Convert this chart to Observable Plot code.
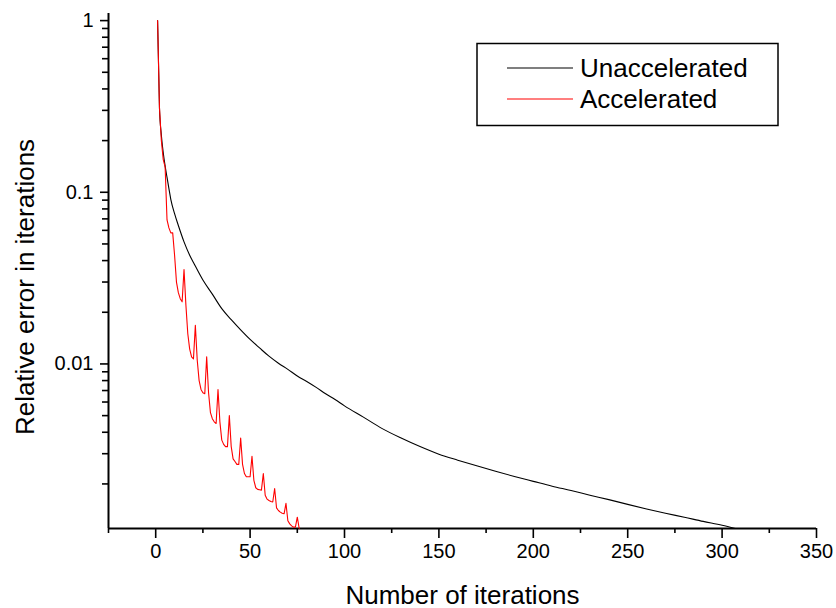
<!DOCTYPE html>
<html><head><meta charset="utf-8">
<script src="https://cdn.jsdelivr.net/npm/d3@7"></script>
<script src="https://cdn.jsdelivr.net/npm/@observablehq/plot@0.6"></script>
<style>
body{margin:0;background:#fff}
svg{font-family:"Liberation Sans",Arial,sans-serif}
</style>
</head><body><div id="chart"></div>
<script>
// Unaccelerated series (iteration, relative error)
const unaccIter = [1,2,3,4,5,6,7,8,10,12,15,18,20,25,30,35,40,45,50,55,60,65,70,75,80,85,90,95,100,110,120,130,140,150,160,170,180,190,200,210,220,230,240,250,260,270,280,290,300,307];
const unaccErr  = [1.0,0.31,0.215,0.17,0.142,0.122,0.105,0.091,0.075,0.064,0.0514,0.043,0.039,0.0308,0.0255,0.021,0.0181,0.0158,0.0139,0.0124,0.0111,0.0101,0.0093,0.0085,0.0079,0.0073,0.0067,0.0062,0.0057,0.0049,0.0042,0.0037,0.0033,0.00298,0.00275,0.00255,0.00237,0.00221,0.00207,0.00194,0.00183,0.00172,0.00162,0.00152,0.00143,0.00135,0.00128,0.00121,0.00115,0.0011];
// Accelerated series
const accIter = [1,2,3,4,5,6,7,8,9,10,11,12,13,14,15,16,17,18,19,20,21,22,23,24,25,26,27,28,29,30,31,32,33,34,35,36,37,38,39,40,41,42,43,44,45,46,47,48,49,50,51,52,53,54,55,56,57,58,59,60,61,62,63,64,65,66,67,68,69,70,71,72,73,74,75,76];
const accErr  = [1.0,0.31,0.2,0.155,0.14,0.069,0.062,0.058,0.058,0.043,0.03,0.026,0.024,0.023,0.0355,0.022,0.015,0.0122,0.011,0.0107,0.0168,0.0105,0.008,0.0071,0.0068,0.0067,0.011,0.0068,0.0052,0.0048,0.0046,0.0045,0.0071,0.0046,0.0036,0.0034,0.0033,0.0033,0.005,0.0033,0.0028,0.0027,0.0026,0.0026,0.0037,0.0026,0.0023,0.0022,0.0022,0.0022,0.0029,0.0021,0.0019,0.00186,0.00185,0.00184,0.0023,0.00172,0.00163,0.0016,0.00158,0.00157,0.00188,0.00145,0.0014,0.00137,0.00135,0.00134,0.00154,0.00122,0.00117,0.00114,0.00112,0.00112,0.00128,0.0011];

const seriesNames = ["Unaccelerated","Accelerated"];
const seriesColors = ["#000000","#ff0000"];
const xMajorTicks = [0,50,100,150,200,250,300,350];
const xMinorTicks = [-25,25,75,125,175,225,275,325];
const yMajorTicks = [1,0.1,0.01];
const yMinorTicks = [0.9,0.8,0.7,0.6,0.5,0.4,0.3,0.2,0.09,0.08,0.07,0.06,0.05,0.04,0.03,0.02,0.009,0.008,0.007,0.006,0.005,0.004,0.003,0.002];
const xDomain = [-25,350];
const yDomain = [0.0011,1.1];
const xTitle = "Number of iterations";
const yTitle = "Relative error in iterations";

const unacc = unaccIter.map((n,i)=>({n, e: unaccErr[i]}));
const acc = accIter.map((n,i)=>({n, e: accErr[i]}));

const chart = Plot.plot({
  width: 836, height: 608,
  marginLeft: 108, marginRight: 20, marginTop: 13, marginBottom: 80,
  style: {fontFamily: '"Liberation Sans", Arial, sans-serif', background: "#fff", color: "#000"},
  x: {domain: xDomain},
  y: {type: "log", domain: yDomain},
  marks: [
    Plot.axisX({ticks: xMajorTicks, tickSize: 10, tickPadding: 5, fontSize: 20, label: null, tickFormat: d => String(d), strokeWidth: 1.6}),
    Plot.axisX({ticks: xMinorTicks, tickSize: 5, tickFormat: () => "", label: null, strokeWidth: 1.6}),
    Plot.axisY({ticks: yMajorTicks, tickSize: 8, tickPadding: 7, fontSize: 20, label: null, tickFormat: d => String(d), strokeWidth: 1.6}),
    Plot.axisY({ticks: yMinorTicks, tickSize: 6, tickFormat: () => "", label: null, strokeWidth: 1.6}),
    Plot.ruleY([yDomain[0]], {stroke: "#000", strokeWidth: 2}),
    Plot.ruleX([xDomain[0]], {stroke: "#000", strokeWidth: 2}),
    Plot.line(unacc, {x: "n", y: "e", stroke: seriesColors[0], strokeWidth: 1.1, curve: "monotone-x"}),
    Plot.line(acc, {x: "n", y: "e", stroke: seriesColors[1], strokeWidth: 1.1}),
    Plot.text([xTitle], {frameAnchor: "bottom", lineAnchor: "bottom", dy: 75, fontSize: 26, fill: "#000"}),
    Plot.text([yTitle], {frameAnchor: "left", textAnchor: "middle", rotate: -90, dx: -83, dy: 16, fontSize: 26, fill: "#000"})
  ]
});
document.getElementById("chart").appendChild(chart);

// Legend (inside plot area, top right)
const svg = d3.select(chart);
const lg = svg.append("g").attr("text-anchor", "start");
lg.append("rect").attr("x", 477).attr("y", 43.5).attr("width", 301).attr("height", 82)
  .attr("fill", "#fff").attr("stroke", "#000").attr("stroke-width", 1.5);
seriesNames.forEach((name, i) => {
  const y = 68 + i * 31;
  lg.append("line").attr("x1", 507).attr("x2", 573).attr("y1", y).attr("y2", y)
    .attr("stroke", seriesColors[i]).attr("stroke-width", 1.1);
  lg.append("text").attr("x", 580).attr("y", y).attr("dy", "0.35em")
    .attr("text-anchor", "start").attr("font-size", 26).attr("fill", "#000").text(name);
});
</script>
</body></html>
